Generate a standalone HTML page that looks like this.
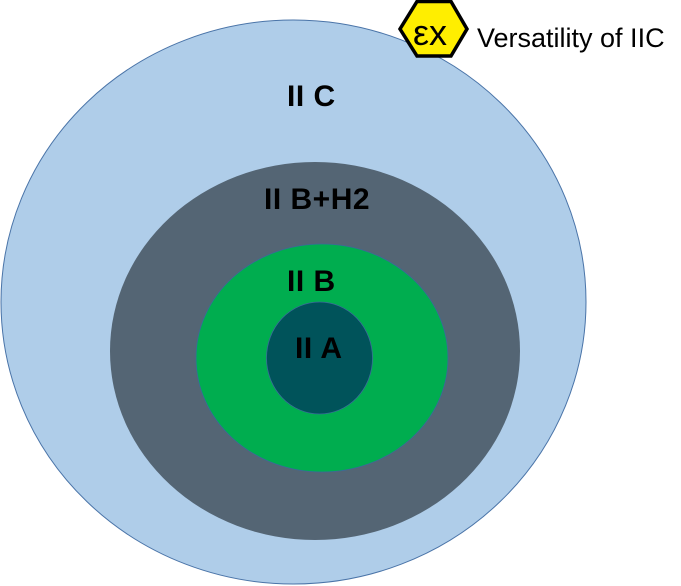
<!DOCTYPE html>
<html><head><style>html,body{margin:0;padding:0;background:#fff;width:681px;height:586px;overflow:hidden}</style></head>
<body>
<svg width="681" height="586" viewBox="0 0 681 586" xmlns="http://www.w3.org/2000/svg">
<ellipse cx="293.5" cy="302" rx="292.5" ry="282" fill="#afcde9" stroke="#4a74a8" stroke-width="1"/>
<ellipse cx="315" cy="351" rx="205" ry="189" fill="#546574"/>
<ellipse cx="322" cy="358" rx="126" ry="114" fill="#00ad4f" stroke="#3a6a9a" stroke-width="0.8"/>
<ellipse cx="319.5" cy="358" rx="53" ry="56" fill="#00535a" stroke="#3a6a9a" stroke-width="0.8"/>
<g font-family="Liberation Sans, sans-serif" font-weight="bold" font-size="30" fill="#000" letter-spacing="0.5">
<text x="287" y="106">II C</text>
<text x="264" y="209">II B+H2</text>
<text x="287" y="291">II B</text>
<text x="295" y="358">II A</text>
</g>
<polygon points="417,1.5 451,1.5 467,29 451,56 417,56 400,29" fill="#ffee00" stroke="#000" stroke-width="3.5"/>
<text x="413" y="45" font-family="Liberation Sans, sans-serif" font-size="36" fill="#000">εx</text>
<text x="477" y="47" font-family="Liberation Sans, sans-serif" font-size="27" fill="#000">Versatility of IIC</text>
</svg>
</body></html>
